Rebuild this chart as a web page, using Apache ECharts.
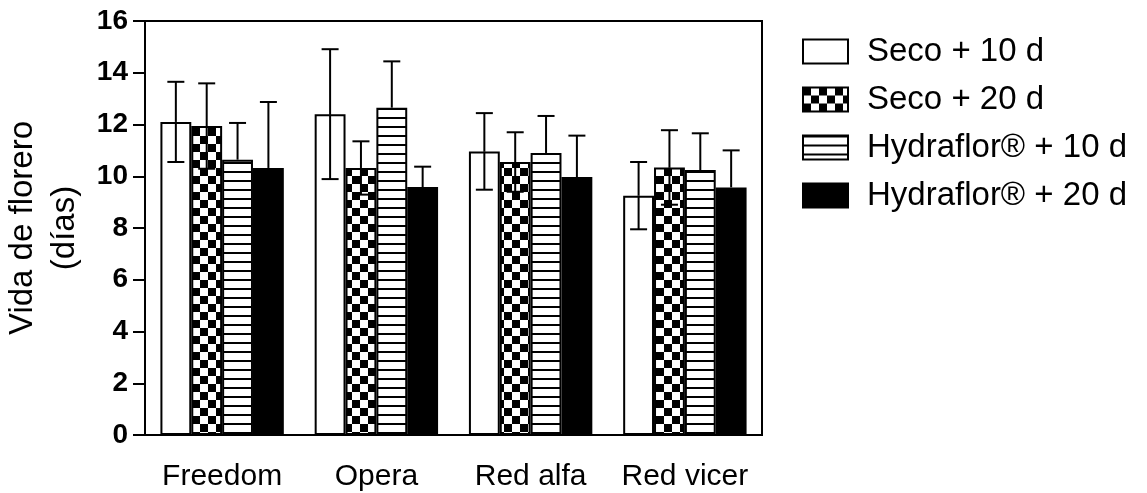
<!DOCTYPE html>
<html>
<head>
<meta charset="utf-8">
<script src="https://cdn.jsdelivr.net/npm/echarts@6/dist/echarts.min.js"></script>
<style>
html,body{margin:0;padding:0;background:#fff;}
#chart{width:1147px;height:493px;}
</style>
</head>
<body>
<div id="chart"></div>
<script>
// ---- data ----
var categories = ['Freedom', 'Opera', 'Red alfa', 'Red vicer'];
var seriesNames = ['Seco + 10 d', 'Seco + 20 d', 'Hydraflor\u00AE + 10 d', 'Hydraflor\u00AE + 20 d'];
var seco10 = [12.1, 12.4, 10.96, 9.25];
var seco20 = [11.94, 10.32, 10.55, 10.34];
var hydra10 = [10.64, 12.65, 10.9, 10.24];
var hydra20 = [10.32, 9.58, 9.97, 9.57];
var seco10Err = [1.55, 2.51, 1.48, 1.3];
var seco20Err = [1.65, 1.03, 1.15, 1.44];
var hydra10Err = [1.42, 1.79, 1.43, 1.42];
var hydra20Err = [2.55, 0.79, 1.6, 1.43];
var yTicks = [0, 2, 4, 6, 8, 10, 12, 14, 16];

var values = [seco10, seco20, hydra10, hydra20];
var errors = [seco10Err, seco20Err, hydra10Err, hydra20Err];

// ---- patterns ----
function makeChecker() {
  var c = document.createElement('canvas');
  c.width = 16; c.height = 16;
  var g = c.getContext('2d');
  g.fillStyle = '#fff'; g.fillRect(0, 0, 16, 16);
  g.fillStyle = '#000'; g.fillRect(0, 0, 8, 8); g.fillRect(8, 8, 8, 8);
  return c;
}
function makeStripes() {
  var c = document.createElement('canvas');
  c.width = 4; c.height = 9;
  var g = c.getContext('2d');
  g.fillStyle = '#fff'; g.fillRect(0, 0, 4, 9);
  g.fillStyle = '#000'; g.fillRect(0, 0, 4, 2);
  return c;
}
var fills = [
  '#ffffff',
  { image: makeChecker(), repeat: 'repeat' },
  { image: makeStripes(), repeat: 'repeat' },
  '#000000'
];

var chart = echarts.init(document.getElementById('chart'), null, { renderer: 'canvas' });

var barCatGap = 0.2;
var nSeries = values.length;

var barSeries = values.map(function (arr, k) {
  return {
    name: seriesNames[k],
    type: 'bar',
    data: arr,
    barGap: '0%',
    barCategoryGap: (barCatGap * 100) + '%',
    itemStyle: { color: fills[k], borderColor: '#000', borderWidth: 2 },
    emphasis: { disabled: true },
    z: 2
  };
});

// error-bar data: [categoryIndex, seriesIndex, mean, err]
var errData = [];
values.forEach(function (arr, k) {
  arr.forEach(function (v, i) { errData.push([i, k, v, errors[k][i]]); });
});

var errSeries = {
  type: 'custom',
  name: 'err',
  data: errData,
  encode: { x: 0, y: 2 },
  z: 5,
  silent: true,
  renderItem: function (params, api) {
    var ci = api.value(0), k = api.value(1), m = api.value(2), e = api.value(3);
    var catW = api.size([1, 0])[0];
    var bw = catW * (1 - barCatGap) / nSeries;
    var center = api.coord([ci, m]);
    var x = center[0] + (k - (nSeries - 1) / 2) * bw;
    var yTop = api.coord([ci, m + e])[1];
    var yBot = api.coord([ci, m - e])[1];
    var yMid = center[1];
    var cap = 8.5;
    var st = { stroke: '#000', lineWidth: 2 };
    var children = [
      { type: 'line', shape: { x1: x, y1: yMid, x2: x, y2: yTop }, style: st },
      { type: 'line', shape: { x1: x - cap, y1: yTop, x2: x + cap, y2: yTop }, style: st }
    ];
    if (k <= 1) {
      children.push({ type: 'line', shape: { x1: x, y1: yMid, x2: x, y2: yBot }, style: st });
      children.push({ type: 'line', shape: { x1: x - cap, y1: yBot, x2: x + cap, y2: yBot }, style: st });
    }
    return { type: 'group', children: children };
  }
};

var option = {
  backgroundColor: '#ffffff',
  animation: false,
  textStyle: { fontFamily: "'Liberation Sans', Arial, sans-serif", color: '#000' },
  grid: {
    left: 145, right: 385, top: 21, bottom: 58,
    containLabel: false,
    outerBoundsMode: 'none',
    show: true, borderColor: '#000', borderWidth: 2, backgroundColor: 'transparent'
  },
  legend: {
    orient: 'vertical',
    left: 797,
    top: 30,
    icon: 'rect',
    itemWidth: 45,
    itemHeight: 24,
    itemGap: 15,
    selectedMode: false,
    data: seriesNames,
    textStyle: { fontSize: 33, color: '#000', padding: [0, 0, 0, 14], fontFamily: "'Liberation Sans', Arial, sans-serif" }
  },
  xAxis: {
    type: 'category',
    data: categories,
    axisLine: { lineStyle: { color: '#000', width: 2 } },
    axisTick: { show: false },
    axisLabel: { interval: 0, fontSize: 30, color: '#000', margin: 27, fontFamily: "'Liberation Sans', Arial, sans-serif" },
    splitLine: { show: false }
  },
  yAxis: {
    type: 'value',
    min: yTicks[0],
    max: yTicks[yTicks.length - 1],
    interval: yTicks[1] - yTicks[0],
    name: 'Vida de florero\n(d\u00EDas)',
    nameLocation: 'middle',
    nameGap: 55,
    nameTextStyle: { fontSize: 33, lineHeight: 42, color: '#000', fontFamily: "'Liberation Sans', Arial, sans-serif" },
    axisLine: { show: true, lineStyle: { color: '#000', width: 2 } },
    axisTick: { show: true, inside: false, length: 12, lineStyle: { color: '#000', width: 2 } },
    axisLabel: { fontSize: 28, fontWeight: 'bold', color: '#000', margin: 17, fontFamily: "'Liberation Sans', Arial, sans-serif" },
    splitLine: { show: false }
  },
  series: barSeries.concat([errSeries])
};

chart.setOption(option);
</script>
</body>
</html>
